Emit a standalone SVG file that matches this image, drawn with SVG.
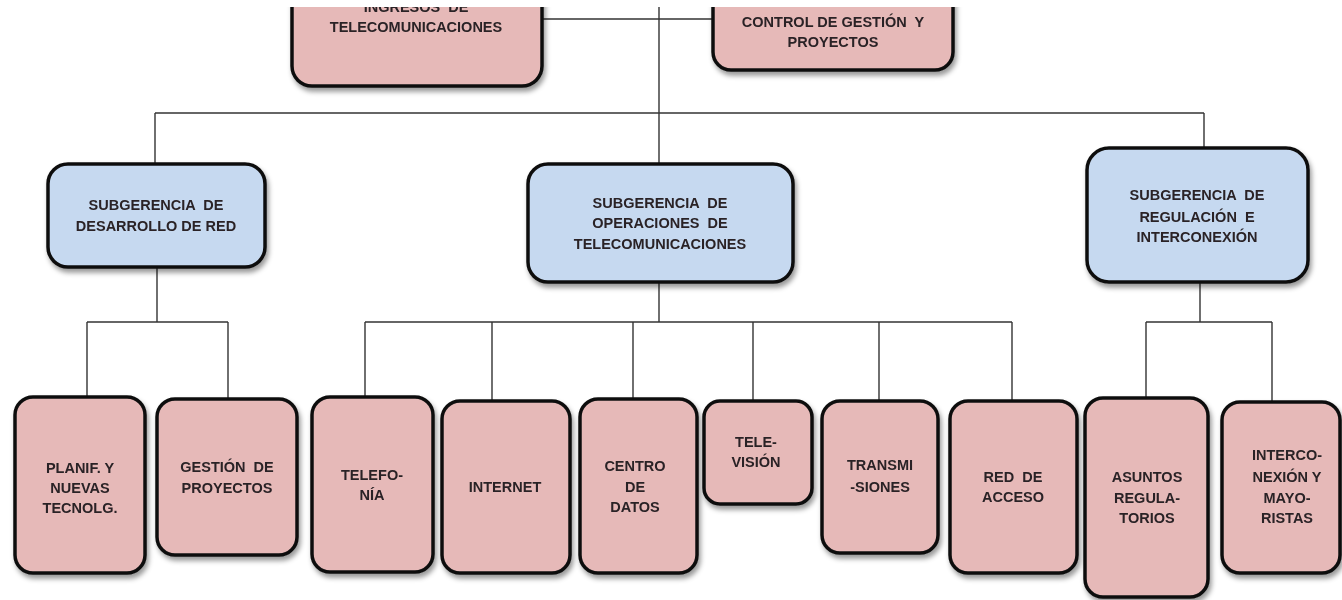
<svg xmlns="http://www.w3.org/2000/svg" width="1342" height="600" viewBox="0 0 1342 600">
<style>
.pk{fill:#e6b9b8;stroke:#111;stroke-width:3.5}
.bl{fill:#c6d9f0;stroke:#111;stroke-width:3.5}
.n{filter:url(#sh)}
text{font-family:"Liberation Sans",Arial,sans-serif;font-weight:bold;font-size:14.5px;fill:#2a2326;text-anchor:middle;white-space:pre}
.c line{stroke:#333;stroke-width:1.4}
</style>
<defs>
<filter id="sh" x="-20%" y="-20%" width="140%" height="140%">
<feDropShadow dx="2" dy="4" stdDeviation="2.5" flood-color="#000" flood-opacity="0.4"/>
</filter>
<clipPath id="cp"><rect x="0" y="7" width="1342" height="593"/></clipPath>
</defs>
<rect width="1342" height="600" fill="#fff"/>
<g clip-path="url(#cp)">
<g class="c" id="connectors">
<line x1="542" y1="19" x2="713" y2="19"/>
<line x1="659" y1="0" x2="659" y2="164"/>
<line x1="155" y1="113" x2="1204" y2="113"/>
<line x1="155" y1="113" x2="155" y2="164"/>
<line x1="1204" y1="113" x2="1204" y2="148"/>
<line x1="157" y1="267" x2="157" y2="322"/>
<line x1="87" y1="322" x2="228" y2="322"/>
<line x1="87" y1="322" x2="87" y2="397"/>
<line x1="228" y1="322" x2="228" y2="399"/>
<line x1="659" y1="282" x2="659" y2="322"/>
<line x1="365" y1="322" x2="1012" y2="322"/>
<line x1="365" y1="322" x2="365" y2="397"/>
<line x1="492" y1="322" x2="492" y2="401"/>
<line x1="633" y1="322" x2="633" y2="399"/>
<line x1="753" y1="322" x2="753" y2="401"/>
<line x1="879" y1="322" x2="879" y2="401"/>
<line x1="1012" y1="322" x2="1012" y2="401"/>
<line x1="1200" y1="282" x2="1200" y2="322"/>
<line x1="1146" y1="322" x2="1272" y2="322"/>
<line x1="1146" y1="322" x2="1146" y2="398"/>
<line x1="1272" y1="322" x2="1272" y2="402"/>
</g>
<g id="ingresos" class="n"><rect class="pk" x="292" y="-30" width="250" height="116" rx="20"/>
<text x="416" y="12">INGRESOS  DE</text><text x="416" y="32">TELECOMUNICACIONES</text></g>
<g id="control" class="n"><rect class="pk" x="713" y="-30" width="240" height="100" rx="18"/>
<text x="833" y="27">CONTROL DE GESTIÓN  Y</text><text x="833" y="47">PROYECTOS</text></g>
<g id="desarrollo" class="n"><rect class="bl" x="48" y="164" width="217" height="103" rx="20"/>
<text x="156" y="210">SUBGERENCIA  DE</text><text x="156" y="231">DESARROLLO DE RED</text></g>
<g id="operaciones" class="n"><rect class="bl" x="528" y="164" width="265" height="118" rx="20"/>
<text x="660" y="208">SUBGERENCIA  DE</text><text x="660" y="228">OPERACIONES  DE</text><text x="660" y="249">TELECOMUNICACIONES</text></g>
<g id="regulacion" class="n"><rect class="bl" x="1087" y="148" width="221" height="134" rx="22"/>
<text x="1197" y="200">SUBGERENCIA  DE</text><text x="1197" y="222">REGULACIÓN  E</text><text x="1197" y="242">INTERCONEXIÓN</text></g>
<g id="planif" class="n"><rect class="pk" x="15" y="397" width="130" height="176" rx="18"/>
<text x="80" y="473">PLANIF. Y</text><text x="80" y="493">NUEVAS</text><text x="80" y="513">TECNOLG.</text></g>
<g id="gestion" class="n"><rect class="pk" x="157" y="399" width="140" height="156" rx="18"/>
<text x="227" y="472">GESTIÓN  DE</text><text x="227" y="493">PROYECTOS</text></g>
<g id="telefonia" class="n"><rect class="pk" x="312" y="397" width="121" height="175" rx="18"/>
<text x="372" y="480">TELEFO-</text><text x="372" y="500">NÍA</text></g>
<g id="internet" class="n"><rect class="pk" x="442" y="401" width="128" height="172" rx="18"/>
<text x="505" y="492">INTERNET</text></g>
<g id="centro" class="n"><rect class="pk" x="580" y="399" width="117" height="174" rx="18"/>
<text x="635" y="471">CENTRO</text><text x="635" y="492">DE</text><text x="635" y="512">DATOS</text></g>
<g id="television" class="n"><rect class="pk" x="704" y="401" width="108" height="103" rx="16"/>
<text x="756" y="447">TELE-</text><text x="756" y="467">VISIÓN</text></g>
<g id="transmisiones" class="n"><rect class="pk" x="822" y="401" width="116" height="152" rx="18"/>
<text x="880" y="470">TRANSMI</text><text x="880" y="492">-SIONES</text></g>
<g id="redacceso" class="n"><rect class="pk" x="950" y="401" width="127" height="172" rx="18"/>
<text x="1013" y="482">RED  DE</text><text x="1013" y="502">ACCESO</text></g>
<g id="asuntos" class="n"><rect class="pk" x="1085" y="398" width="123" height="199" rx="18"/>
<text x="1147" y="482">ASUNTOS</text><text x="1147" y="503">REGULA-</text><text x="1147" y="523">TORIOS</text></g>
<g id="interconexion" class="n"><rect class="pk" x="1222" y="402" width="118" height="171" rx="18"/>
<text x="1287" y="460">INTERCO-</text><text x="1287" y="482">NEXIÓN Y</text><text x="1287" y="503">MAYO-</text><text x="1287" y="523">RISTAS</text></g>
</g>
</svg>
